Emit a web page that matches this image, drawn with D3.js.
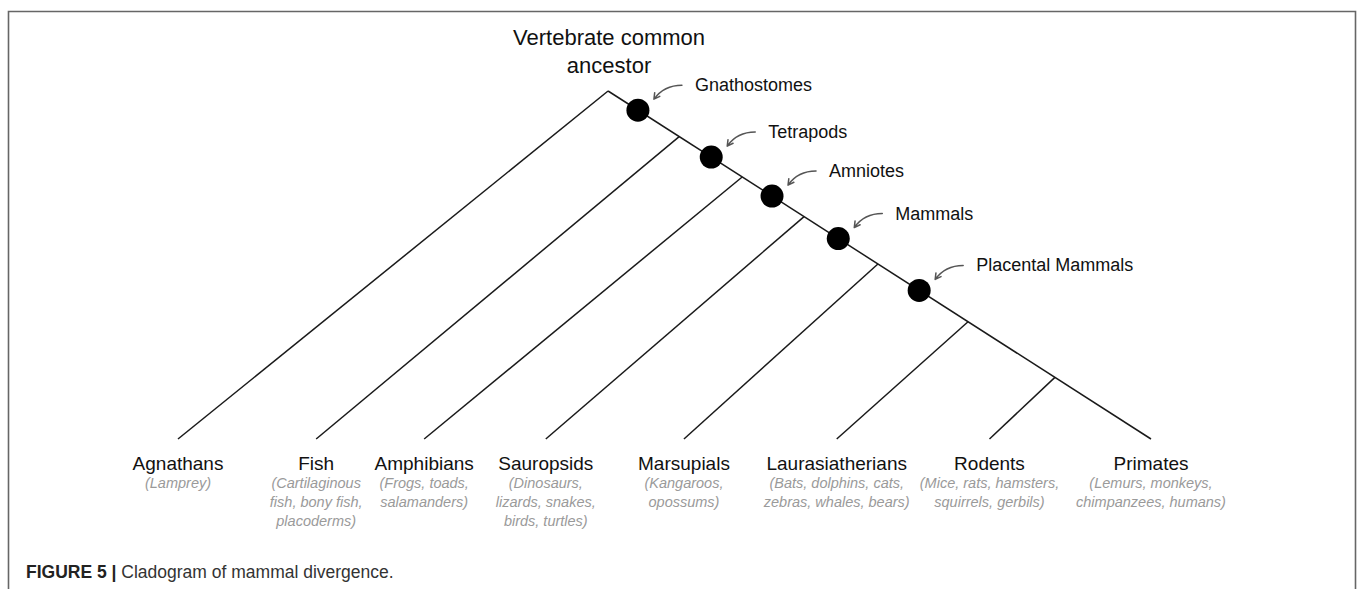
<!DOCTYPE html>
<html>
<head>
<meta charset="utf-8">
<script src="https://cdn.jsdelivr.net/npm/d3@7"></script>
<style>
    body { margin: 0; background: #fff; }
    svg { display: block; font-family: "Liberation Sans", Arial, sans-serif; }
</style>
</head>
<body>
<div id="chart"></div>
<script>
const taxa = ['Agnathans', 'Fish', 'Amphibians', 'Sauropsids', 'Marsupials', 'Laurasiatherians', 'Rodents', 'Primates'];
const examples = [
    ['(Lamprey)'],
    ['(Cartilaginous', 'fish, bony fish,', 'placoderms)'],
    ['(Frogs, toads,', 'salamanders)'],
    ['(Dinosaurs,', 'lizards, snakes,', 'birds, turtles)'],
    ['(Kangaroos,', 'opossums)'],
    ['(Bats, dolphins, cats,', 'zebras, whales, bears)'],
    ['(Mice, rats, hamsters,', 'squirrels, gerbils)'],
    ['(Lemurs, monkeys,', 'chimpanzees, humans)']
];
// leaf spread along the bottom, 0..100
const leafPos = [0, 14.2, 25.3, 37.8, 52.0, 67.7, 83.4, 100];
const rootPos = 44.2;
// depth along the spine (0 = common ancestor, 1 = tips) where each lineage splits off
const splitDepth = [0, 0.131, 0.247, 0.361, 0.497, 0.663, 0.823, 1];
const clades = ['Gnathostomes', 'Tetrapods', 'Amniotes', 'Mammals', 'Placental Mammals'];
const cladeDepth = [0.055, 0.19, 0.302, 0.424, 0.573];
const rootLabel = ['Vertebrate common', 'ancestor'];
const caption = { bold: 'FIGURE 5 | ', text: 'Cladogram of mammal divergence.' };

const width = 1358;
const height = 589;

const svg = d3.select('#chart')
    .append('svg')
    .attr('width', width)
    .attr('height', height)
    .attr('viewBox', `0 0 ${width} ${height}`);

// panel frame (open at the bottom)
svg.append('path')
    .attr('d', `M8.5,${height} V11.5 H1355.5 V${height}`)
    .attr('fill', 'none')
    .attr('stroke', '#666')
    .attr('stroke-width', 1.6);

const x = d3.scaleLinear().domain([0, 100]).range([178, 1151]);
const y = d3.scaleLinear().domain([0, 1]).range([91, 439]);

const spineX = depth => x(rootPos + depth * (100 - rootPos));

const tree = svg.append('g')
    .attr('stroke', '#1a1a1a')
    .attr('stroke-width', 1.5)
    .attr('fill', 'none');

// spine from root to the last tip
tree.append('line')
    .attr('x1', spineX(0)).attr('y1', y(0))
    .attr('x2', x(leafPos[leafPos.length - 1])).attr('y2', y(1));

// side branches
tree.selectAll('line.branch')
    .data(taxa.slice(0, -1))
    .join('line')
    .attr('class', 'branch')
    .attr('x1', (d, i) => spineX(splitDepth[i]))
    .attr('y1', (d, i) => y(splitDepth[i]))
    .attr('x2', (d, i) => x(leafPos[i]))
    .attr('y2', y(1));

// clade markers
svg.append('g')
    .selectAll('circle')
    .data(clades)
    .join('circle')
    .attr('cx', (d, i) => spineX(cladeDepth[i]))
    .attr('cy', (d, i) => y(cladeDepth[i]))
    .attr('r', 11.5)
    .attr('fill', '#000');

const labels = svg.append('g')
    .selectAll('g')
    .data(clades)
    .join('g')
    .attr('transform', (d, i) => `translate(${spineX(cladeDepth[i])},${y(cladeDepth[i])})`);

labels.append('text')
    .attr('x', 57)
    .attr('y', -19)
    .attr('font-size', 18)
    .attr('fill', '#111')
    .text(d => d);

// small curved pointer arrows
const start = [44, -25];
const ctrl = [26, -25];
const end = [16, -11];
const angle = Math.atan2(end[1] - ctrl[1], end[0] - ctrl[0]);
const head = 6.5;
const wing = a => [end[0] - head * Math.cos(angle + a), end[1] - head * Math.sin(angle + a)];
const w1 = wing(0.5);
const w2 = wing(-0.5);

labels.append('path')
    .attr('d', `M${start} Q${ctrl} ${end} M${w1} L${end} L${w2}`)
    .attr('fill', 'none')
    .attr('stroke', '#555')
    .attr('stroke-width', 1.5)
    .attr('stroke-linecap', 'round')
    .attr('stroke-linejoin', 'round');

// root title
svg.append('text')
    .attr('x', spineX(0) + 1)
    .attr('y', 45)
    .attr('text-anchor', 'middle')
    .attr('font-size', 22)
    .attr('fill', '#111')
    .selectAll('tspan')
    .data(rootLabel)
    .join('tspan')
    .attr('x', spineX(0) + 1)
    .attr('dy', (d, i) => i === 0 ? 0 : 28)
    .text(d => d);

// tip labels
const tips = svg.append('g')
    .selectAll('g')
    .data(taxa)
    .join('g')
    .attr('transform', (d, i) => `translate(${x(leafPos[i])},0)`)
    .attr('text-anchor', 'middle');

tips.append('text')
    .attr('y', 470)
    .attr('font-size', 19)
    .attr('fill', '#111')
    .text(d => d);

tips.append('text')
    .attr('y', 488)
    .attr('font-size', 14.5)
    .attr('font-style', 'italic')
    .attr('fill', '#9a9a9a')
    .selectAll('tspan')
    .data((d, i) => examples[i])
    .join('tspan')
    .attr('x', 0)
    .attr('dy', (d, i) => i === 0 ? 0 : 19)
    .text(d => d);

const cap = svg.append('text')
    .attr('x', 26)
    .attr('y', 578)
    .attr('font-size', 17.5)
    .attr('fill', '#222');

cap.append('tspan')
    .attr('font-weight', 'bold')
    .text(caption.bold);

cap.append('tspan')
    .attr('fill', '#333')
    .text(caption.text);
</script>
</body>
</html>
